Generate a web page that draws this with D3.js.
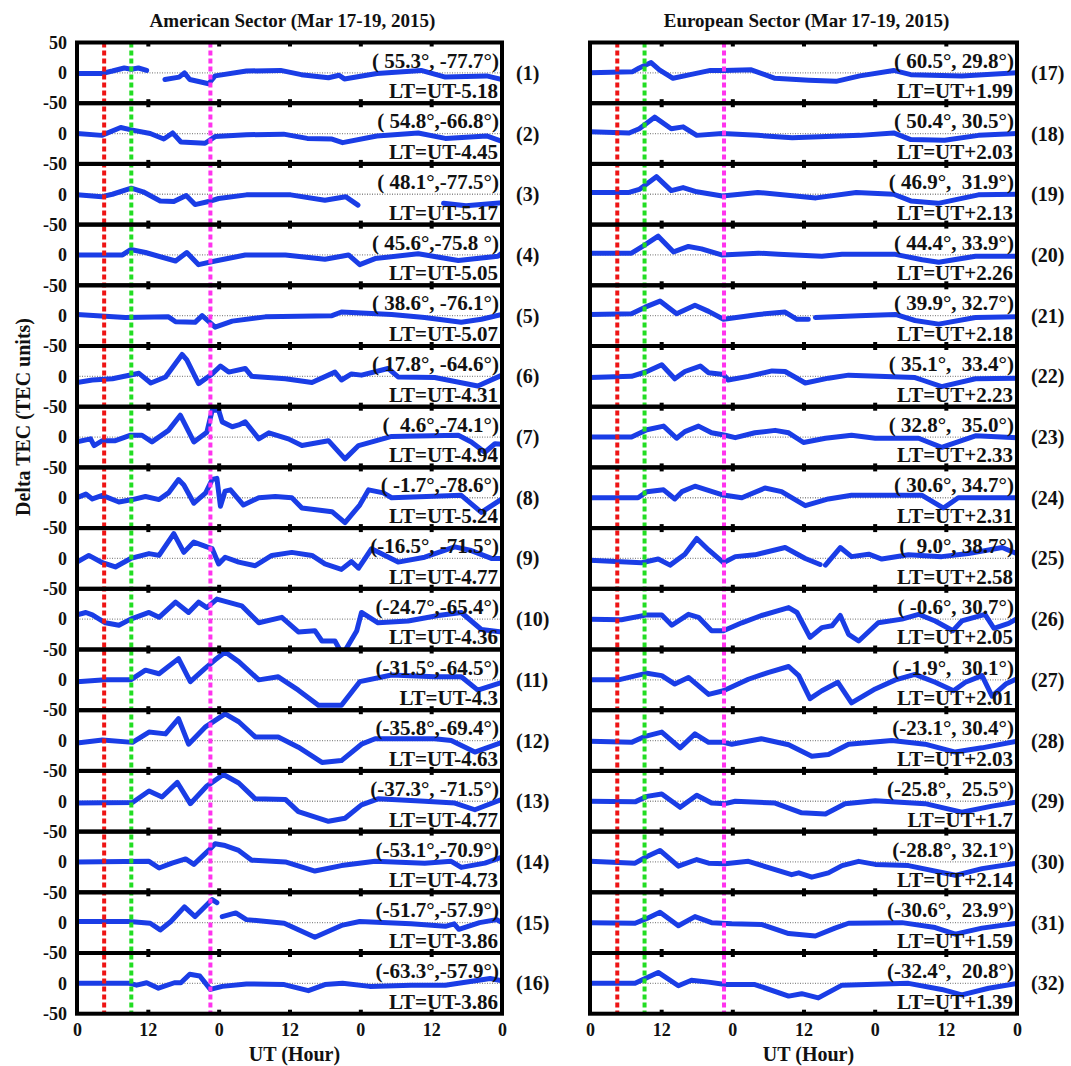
<!DOCTYPE html>
<html>
<meta charset="utf-8">
<style>
body { margin: 0; background: #fff; }
svg text { font-family: 'Liberation Serif', 'Times New Roman', serif; font-weight: bold; fill: #111; }
.frame { fill: none; stroke: #000; stroke-width: 4; }
.tec { fill: none; stroke: #1a3de6; stroke-width: 5; stroke-linejoin: round; stroke-linecap: round; }
.zero { stroke: #8a8a8a; stroke-width: 1.3; stroke-dasharray: 1,1.5; }
.event { stroke-width: 4; stroke-dasharray: 5,3; }
.marks path { display: none; }
.marks line { stroke: #000; stroke-width: 4; }
.ylab path, .xlab path { display: none; }
.ylab text, .xlab text { font-size: 18px; }
text.coord, text.lt, text.num { font-size: 21px; white-space: pre; }
text.num { font-size: 20px; }
text.title { font-size: 19px; }
text.axtitle { font-size: 20px; }
</style>
<body>
<svg width="1071" height="1066"></svg>
<script src="https://cdn.jsdelivr.net/npm/d3@7"></script>
<script>

// UT hour (0-72, Mar 17-19 2015) vs delta TEC; a null value marks a data gap
var am01 = [[0,-1],[4.2,-1],[6,3],[8,8],[9.2,6],[10.4,8],[11.8,4],[13,null],[14.9,-11],[17.3,-7],[18.2,0],[19.1,-11],[22.3,-18],[23.4,-5],[28.7,3],[34.5,4],[38,-3],[42.6,-8],[44.4,-4],[45.3,-10],[50.8,-1],[58.3,4],[62.4,-7],[69.4,-5],[72,-11]];
var am02 = [[0,0],[4.2,-3],[7.4,10],[9.2,6],[12.4,0],[14.7,-9],[16.2,1],[17.6,-14],[21.7,-16],[23.4,-5],[28.7,-2],[35,-1],[39,-8],[43.2,-9],[45,-15],[50.8,-4],[57.8,1],[62.4,-8],[69.4,-4],[72,-13]];
var am03 = [[0,-1],[4.2,-4],[6,0],[9.2,10],[11.2,4],[14.1,-11],[16.4,-12],[18.5,-2],[20,-17],[22.3,-12],[24,-7],[28.7,-1],[36.2,-1],[42,-10],[45.5,-4],[47.6,-18],[50,null],[62.1,-15],[65.9,-19],[72,-14]];
var am04 = [[0,0],[7.7,0],[9.1,9],[11.6,4],[16.7,-10],[18.6,4],[20.6,-16],[23.4,-10],[28.5,0],[35.3,0],[42,-7],[46,0],[47.9,-16],[50.5,-6],[57.8,2],[64.6,-9],[71.3,-2],[72,3]];
var am05 = [[0,2],[8.2,-3],[15.5,-2],[16.7,-10],[20,-11],[21.2,0],[23.4,-19],[26.3,-9],[31.9,-2],[43.2,0],[44.8,6],[53.3,2],[58.9,-3],[65.1,-11],[68.5,-6],[72,2]];
var am06 = [[0,-10],[2.6,-6],[6,-4],[10.5,5],[12.5,-11],[15,-1],[17.8,36],[18.6,27],[20.6,-12],[22.9,4],[24.3,17],[25.7,7],[28.5,13],[29.6,0],[35.3,-4],[39.8,-10],[43.7,7],[44.8,-6],[46.5,4],[48.2,2],[52.7,13],[54.4,-1],[60.6,-2],[67.9,-16],[72,2]];
var am07 = [[0,-8],[2.3,-3],[2.9,-14],[4.3,-6],[6.5,-6],[9.1,3],[11,3],[12.7,-8],[15.5,11],[17.5,36],[19.8,-8],[22,8],[22.9,44],[24,44],[24.6,25],[26.3,17],[27.4,20],[28.5,25],[30.8,-3],[32.5,7],[35.8,-3],[38.1,-14],[42.6,-6],[45.4,-36],[47.7,-14],[53.3,1],[64.6,3],[66.8,-8],[69.1,-25],[70.8,-11],[72,-12]];
var am08 = [[0,0],[1.5,6],[2.6,-2],[4.3,4],[7.1,-7],[9.4,-3],[11.6,2],[13.9,-3],[15.5,8],[17.2,30],[18.1,21],[19.8,-9],[21.8,8],[22.9,30],[23.7,32],[24.3,-14],[25.1,11],[26,13],[28.2,-12],[30.8,0],[33.6,2],[36.4,0],[38.1,-17],[43.2,-23],[45.4,-41],[47.9,-12],[49.4,13],[51.9,8],[53.3,0],[65.1,4],[68.5,-24],[72,-2]];
var am09 = [[0,-6],[2,5],[4.3,-7],[6.5,-14],[9.1,0],[12.2,8],[13.9,5],[16.4,41],[18.1,10],[19.8,27],[22,19],[22.9,16],[24,-9],[25.1,2],[27.4,-6],[30.2,-12],[33,5],[36.4,10],[39.8,5],[42,-9],[44.8,-18],[46.5,-5],[47.7,-16],[49.9,16],[54.4,-6],[58.9,2],[64,19],[66.8,13],[70.2,0],[72,0]];
var am10 = [[0,7],[1.5,11],[2.6,7],[4.8,-6],[7.1,-10],[9.1,0],[12.2,11],[13.9,3],[16.7,28],[18.9,11],[20.6,28],[22,19],[23.7,33],[27.9,22],[30.8,-6],[34.7,3],[37.5,-21],[40.3,-19],[41.5,-36],[43.7,-36],[44.6,-52],[45.4,-52],[47.4,-19],[48.2,11],[51,-6],[56.1,-3],[61.2,6],[65.1,11],[68.5,-17],[72,-21]];
var am11 = [[0,-3],[4.8,0],[9.1,0],[11.6,16],[13.9,10],[17.2,35],[19.2,-3],[21.7,19],[23.4,33],[25.1,46],[27.4,30],[30.8,0],[34.1,5],[37.5,-17],[40.9,-42],[44.8,-42],[47.9,-3],[53.3,8],[60.6,5],[65.1,5],[67.9,-17],[72,-4]];
var am12 = [[0,-4],[4.3,1],[9.4,-3],[12.2,14],[15,11],[17.2,36],[18.9,-6],[21.7,22],[25.1,44],[27.4,31],[30.2,6],[34.1,6],[37.5,-11],[41.5,-36],[44.8,-33],[48.2,-6],[50.5,3],[60.6,3],[63.4,0],[67.4,-19],[72,-3]];
var am13 = [[0,-3],[9.4,-2],[12.2,17],[14.4,7],[17,31],[19.2,-4],[22,25],[24.8,44],[27.4,30],[30.2,4],[35.3,3],[37.5,-17],[42.6,-33],[45.4,-28],[48.2,-6],[51,4],[58.9,0],[64,-3],[67.4,-14],[72,3]];
var am14 = [[0,0],[12.2,1],[13.9,-10],[16.1,-2],[18.4,5],[19.8,-4],[22.3,19],[23.4,30],[25.1,27],[27.4,19],[29.6,3],[35.3,0],[40.3,-15],[44.8,-6],[50.5,1],[58.9,-2],[63.4,1],[65.1,-9],[69.1,-2],[72,8]];
var am15 = [[0,2],[8.9,2],[12.4,-1],[14.1,-12],[15.9,2],[18.2,26],[20,10],[22.9,38],[23.7,33],[24.1,null],[24.6,10],[26.9,16],[28.7,5],[35.1,-1],[40.3,-24],[45,-4],[47.9,2],[56.6,-2],[62.4,-6],[63.9,-2],[64.7,-11],[68.2,0],[71.1,5],[72,0]];
var am16 = [[0,0],[8.9,0],[10.1,-3],[11.8,1],[13.8,-8],[16.5,1],[17.6,1],[19.1,15],[20.8,12],[22.6,-10],[24.6,-5],[28.7,-1],[35.1,-2],[39.2,-12],[42,-2],[45,0],[49.6,-5],[56.6,-3],[62.4,-3],[70,8],[72,4]];

var eu17 = [[0,0],[7.2,2],[8.3,8],[10.3,17],[11.7,5],[14,-9],[16.9,-3],[20.3,4],[22.6,4],[27.2,5],[31.2,-9],[36.9,-12],[41.5,-14],[45.5,-5],[51.2,4],[54.1,-3],[62.7,-5],[72,0]];
var eu18 = [[0,3],[6.6,1],[8.3,8],[10.9,27],[13.7,8],[15.7,11],[18,-3],[22.3,0],[28.3,-3],[34.1,-7],[45.5,-3],[51.2,1],[54.1,-10],[59.8,-11],[65.5,-3],[72,0]];
var eu19 = [[0,3],[6.6,3],[8.3,8],[11.2,29],[13.7,6],[15.7,11],[18,4],[22.3,-3],[28.3,3],[38.1,-6],[44.9,3],[51.2,0],[54.1,-11],[58.7,-15],[65.5,-1],[72,0]];
var eu20 = [[0,3],[7,3],[9,15],[11.5,31],[14.1,5],[16.6,14],[18.8,10],[22.2,0],[28.4,3],[31.8,1],[39.1,-2],[42.5,1],[51.5,1],[56,-8],[58.8,-12],[65,-2],[72,-2]];
var eu21 = [[0,2],[7,3],[9.3,14],[11.8,24],[14.6,3],[17.7,17],[20,7],[22.5,-6],[28.4,2],[32.9,6],[34.9,-6],[36.8,-6],[37.4,null],[38,-3],[45.3,0],[51.5,2],[54.8,-8],[58.8,-14],[65,-3],[72,-2]];
var eu22 = [[0,-2],[7,0],[9.6,8],[12.1,19],[14.3,-4],[16,8],[18.6,17],[20,6],[22.5,3],[23.3,-6],[26.7,0],[30.7,9],[32.9,8],[36.3,-11],[40.2,-3],[43.6,2],[54.8,-2],[56,-6],[59.3,-17],[65,-4],[72,-3]];
var eu23 = [[0,0],[7,0],[9.6,12],[12.4,18],[14.6,-2],[16,9],[18.3,18],[20.5,7],[22.8,3],[24.5,-1],[27.8,7],[31.2,11],[33.5,7],[36,-9],[39.7,-2],[44.1,3],[48.1,-2],[55.4,-2],[59.3,-17],[65,2],[72,-1]];
var eu24 = [[0,0],[8.1,0],[9.6,10],[12.4,13],[14.3,-2],[15.5,10],[17.7,19],[22.2,5],[25.6,0],[29.5,16],[32.3,10],[36.3,-13],[40.2,-2],[44.1,4],[56,4],[59.6,-17],[62.1,0],[72,0]];
var eu25 = [[0,-3],[8.7,-7],[11.5,-1],[13.5,-11],[16,7],[18,33],[20,14],[22.5,-7],[24.5,3],[27.8,6],[32.9,18],[36.3,0],[38.8,-10],[39.2,null],[39.7,-11],[42.2,18],[44.1,3],[47,7],[49.2,-1],[53.7,6],[59.3,3],[63.8,8],[69.5,18],[72,8]];
var eu26 = [[0,0],[5.3,-1],[9.6,7],[12.1,7],[13.8,-10],[16.6,8],[18.3,3],[20.5,-19],[22.5,-19],[25.6,-6],[28.9,6],[33.5,19],[34.9,11],[37.1,-30],[39.1,-14],[40.8,-11],[42.2,6],[43.6,-25],[45.3,-36],[48.6,-6],[52.6,0],[55.4,8],[58.2,-3],[61.2,-19],[62.7,-3],[66.6,8],[68.1,-15],[70.6,-7],[72,1]];
var eu27 = [[0,0],[4.8,0],[9.6,11],[12.1,7],[14.3,-7],[16.6,4],[20,-24],[22.5,-18],[26.7,1],[30,12],[33.5,22],[35.2,7],[37.1,-31],[39.1,-18],[41.8,-4],[44.1,-38],[48.1,-15],[51.5,0],[54.8,9],[58.2,-4],[61.3,-18],[63.3,-4],[66.1,7],[67.8,-27],[70.1,-7],[72,2]];
var eu28 = [[0,-1],[7,-3],[9.3,7],[12.1,14],[15.2,-12],[17.7,11],[20,-3],[22.5,-3],[23.9,-6],[28.9,3],[33.5,-7],[37.4,-26],[40.2,-23],[43.6,-6],[50.9,0],[56.5,-6],[61.6,-19],[66.1,-12],[72,-1]];
var eu29 = [[0,0],[7.6,-1],[9.6,8],[12.1,12],[15.2,-10],[18,10],[20.5,-3],[22.8,-4],[24.5,0],[31.2,-3],[35.7,-19],[39.7,-21],[43,-4],[48.1,1],[56.5,-4],[62.7,-18],[67.8,-8],[72,-1]];
var eu30 = [[0,1],[7.6,-2],[9.6,9],[11.8,19],[14.9,-7],[18,4],[20,-2],[22.8,-3],[26.7,1],[34,-21],[35.2,-18],[37.4,-25],[40.2,-18],[42.5,-6],[45.3,1],[48.1,-4],[53.7,-6],[61.6,-22],[66.1,-11],[72,-2]];
var eu31 = [[0,0],[7.6,-1],[9.6,7],[11.8,17],[14.9,-5],[17.7,10],[20.5,0],[23.9,-2],[28.9,-3],[33.5,-18],[38,-22],[41.3,-9],[43.6,-1],[52.6,0],[58.2,-8],[61.6,-19],[66.1,-9],[72,-1]];
var eu32 = [[0,0],[7.6,0],[9.3,8],[11.5,18],[14.9,-4],[17.1,5],[20,2],[22.8,-2],[27.8,-2],[33.5,-21],[35.7,-17],[38.5,-24],[42.5,-3],[53.7,0],[59.3,-10],[62.7,-19],[67.2,-8],[72,0]];

var amCoords = ["( 55.3°, -77.7°)","( 54.8°,-66.8°)","( 48.1°,-77.5°)","( 45.6°,-75.8 °)","( 38.6°, -76.1°)","( 17.8°, -64.6°)","(  4.6°,-74.1°)","( -1.7°,-78.6°)","(-16.5°, -71.5°)","(-24.7°,-65.4°)","(-31.5°,-64.5°)","(-35.8°,-69.4°)","(-37.3°, -71.5°)","(-53.1°,-70.9°)","(-51.7°,-57.9°)","(-63.3°,-57.9°)"];
var euCoords = ["( 60.5°, 29.8°)","( 50.4°, 30.5°)","( 46.9°,  31.9°)","( 44.4°, 33.9°)","( 39.9°, 32.7°)","( 35.1°,  33.4°)","( 32.8°,  35.0°)","( 30.6°, 34.7°)","(  9.0°, 38.7°)","( -0.6°, 30.7°)","( -1.9°,  30.1°)","(-23.1°, 30.4°)","(-25.8°,  25.5°)","(-28.8°, 32.1°)","(-30.6°,  23.9°)","(-32.4°,  20.8°)"];
var amLT = ["-5.18","-4.45","-5.17","-5.05","-5.07","-4.31","-4.94","-5.24","-4.77","-4.36","-4.3","-4.63","-4.77","-4.73","-3.86","-3.86"];
var euLT = ["+1.99","+2.03","+2.13","+2.26","+2.18","+2.23","+2.33","+2.31","+2.58","+2.05","+2.01","+2.03","+1.7","+2.14","+1.59","+1.39"];

var hourTicks = [0, 12, 24, 36, 48, 60, 72];
var yTicks = [50, 0, -50];
// event times (UT hour) and colours of the dashed markers
var eventHours = [4.6, 9.2, 22.6];
var eventColors = ["#ee1414", "#22dd22", "#ff33ee"];

var svg = d3.select("svg");
var top0 = 42.5, panelH = 60.7, nPanels = 16;

var y = d3.scaleLinear().domain([-50, 50]).range([panelH, 0]);

var columns = [
  { x0: 77, x1: 502, title: "American Sector (Mar 17-19, 2015)", first: 1, yLabels: true,
    series: [am01, am02, am03, am04, am05, am06, am07, am08, am09, am10, am11, am12, am13, am14, am15, am16],
    coords: amCoords, lt: amLT },
  { x0: 590, x1: 1017, title: "European Sector (Mar 17-19, 2015)", first: 17, yLabels: false,
    series: [eu17, eu18, eu19, eu20, eu21, eu22, eu23, eu24, eu25, eu26, eu27, eu28, eu29, eu30, eu31, eu32],
    coords: euCoords, lt: euLT }
];

columns.forEach(function(col, c) {
  var x = d3.scaleLinear().domain([0, 72]).range([col.x0, col.x1]);
  var mid = (col.x0 + col.x1) / 2;

  var line = d3.line()
    .defined(function(d) { return d[1] != null; })
    .x(function(d) { return x(d[0]); })
    .y(function(d) { return y(d[1]); });

  // curves
  col.series.forEach(function(data, i) {
    var g = svg.append("g").attr("transform", "translate(0," + (top0 + i * panelH) + ")");
    var id = "clip" + c + "_" + i;
    g.append("clipPath").attr("id", id).append("rect")
      .attr("x", col.x0).attr("y", 0).attr("width", col.x1 - col.x0).attr("height", panelH);
    g.append("line").attr("class", "zero")
      .attr("x1", col.x0).attr("x2", col.x1).attr("y1", y(0)).attr("y2", y(0));
    g.append("path").datum(data).attr("class", "tec")
      .attr("clip-path", "url(#" + id + ")").attr("d", line);
  });

  // event markers across the whole column
  svg.selectAll(null).data(eventHours).enter().append("line")
    .attr("class", "event")
    .attr("x1", function(d) { return x(d); }).attr("x2", function(d) { return x(d); })
    .attr("y1", top0).attr("y2", top0 + nPanels * panelH)
    .attr("stroke", function(d, i) { return eventColors[i]; });

  // frames, ticks, labels
  col.series.forEach(function(data, i) {
    var g = svg.append("g").attr("transform", "translate(0," + (top0 + i * panelH) + ")");

    g.append("g").attr("class", "marks")
      .call(d3.axisTop(x).tickValues(hourTicks.slice(1, -1)).tickSize(-4).tickFormat(""));
    g.append("g").attr("class", "marks").attr("transform", "translate(0," + panelH + ")")
      .call(d3.axisBottom(x).tickValues(hourTicks.slice(1, -1)).tickSize(-4).tickFormat(""));

    g.append("rect").attr("class", "frame")
      .attr("x", col.x0).attr("y", 0).attr("width", col.x1 - col.x0).attr("height", panelH);

    if (col.yLabels) {
      g.append("g").attr("class", "ylab").attr("transform", "translate(" + col.x0 + ",0)")
        .call(d3.axisLeft(y).tickValues(i === 0 ? yTicks : yTicks.slice(1)).tickSize(0).tickPadding(10)
          .tickFormat(function(d) { return String(d); }));
    }

    if (i === nPanels - 1) {
      g.append("g").attr("class", "xlab").attr("transform", "translate(0," + panelH + ")")
        .call(d3.axisBottom(x).tickValues(hourTicks).tickSize(0).tickPadding(10)
          .tickFormat(function(d) { return String(d % 24); }));
    }

    g.append("text").attr("class", "coord")
      .attr("x", col.x1 - 3).attr("y", 25).attr("text-anchor", "end")
      .text(col.coords[i]);
    g.append("text").attr("class", "lt")
      .attr("x", col.x1 - 4).attr("y", panelH - 5).attr("text-anchor", "end")
      .text("LT=UT" + col.lt[i]);
    g.append("text").attr("class", "num")
      .attr("x", col.x1 + 14).attr("y", y(0) + 7)
      .text("(" + (col.first + i) + ")");
  });

  svg.append("text").attr("class", "title")
    .attr("x", mid + 3).attr("y", 27).attr("text-anchor", "middle")
    .text(col.title);
  svg.append("text").attr("class", "axtitle")
    .attr("x", mid + 5).attr("y", 1061).attr("text-anchor", "middle")
    .text("UT (Hour)");
});

svg.append("text").attr("class", "axtitle")
  .attr("transform", "translate(30,318) rotate(-90)")
  .attr("text-anchor", "end")
  .text("Delta TEC (TEC units)");

</script>
</body>
</html>
